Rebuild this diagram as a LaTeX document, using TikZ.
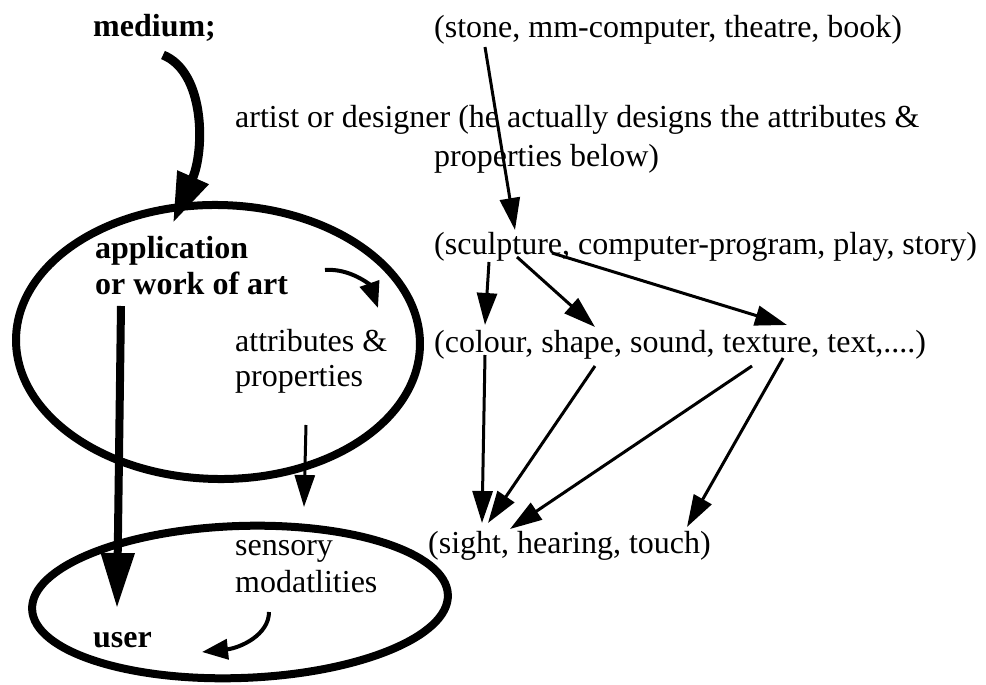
\documentclass[tikz,border=0pt]{standalone}
\usepackage{fontspec}
\setmainfont{Liberation Serif}
\usetikzlibrary{arrows.meta}
\begin{document}
\begin{tikzpicture}[x=1pt,y=-1pt,
  lbl/.style={anchor=base west,inner sep=0pt,font=\fontsize{32}{38}\selectfont},
  blbl/.style={anchor=base west,inner sep=0pt,font=\fontsize{32}{38}\selectfont\bfseries},
  ring/.style={line width=8pt},
  thinarr/.style={line width=3pt,-{Triangle[length=32pt,width=20pt]}},
  thickarr/.style={line width=9pt,-{Triangle[length=50pt,width=32pt]}},
  midarr/.style={line width=4pt,-{Triangle[length=26pt,width=20pt]}}]
\useasboundingbox (0,0) rectangle (986,685);

% ellipses
\draw[ring,rotate around={-1:(218,342)}] (218,342) ellipse [x radius=202, y radius=137];
\draw[ring,rotate around={2:(240,602)}] (240,602) ellipse [x radius=208, y radius=76];

% texts
\node[blbl] (medium) at (93,37) {medium;};
\node[lbl] (stone) at (434,38) {(stone, mm-computer, theatre, book)};
\node[lbl] (artist) at (235,128) {artist or designer (he actually designs the attributes \&};
\node[lbl] (below) at (434,166) {properties below)};
\node[blbl] (app) at (95,258) {application};
\node[blbl] (work) at (95,294) {or work of art};
\node[lbl] (sculpt) at (434,254) {(sculpture, computer-program, play, story)};
\node[lbl] (attr) at (235,351) {attributes \&};
\node[lbl] (prop) at (235,386) {properties};
\node[lbl] (colour) at (434,352) {(colour, shape, sound, texture, text,....)};
\node[lbl] (sensory) at (235,555) {sensory};
\node[lbl] (modal) at (235,592) {modatlities};
\node[lbl] (sight) at (428,553) {(sight, hearing, touch)};
\node[blbl] (user) at (93,647) {user};

% connector end points
\coordinate (m0) at (163,55);
\coordinate (m1) at (173,223);
\coordinate (s0) at (485,47);
\coordinate (s1) at (515,230);
\coordinate (a0) at (325,270);
\coordinate (a1) at (378,308);
\coordinate (w0) at (121,306);
\coordinate (w1) at (117,608);
\coordinate (p0) at (306,425);
\coordinate (p1) at (304,507);
\coordinate (y0) at (269,612);
\coordinate (y1) at (202,652);
\coordinate (c0a) at (489,262);
\coordinate (c1a) at (485,325);
\coordinate (c0b) at (517,257);
\coordinate (c1b) at (595,327);
\coordinate (c0c) at (552,253);
\coordinate (c1c) at (787,325);
\coordinate (h0a) at (485,355);
\coordinate (h1a) at (482,523);
\coordinate (h0b) at (595,366);
\coordinate (h1b) at (488,523);
\coordinate (h0c) at (752,366);
\coordinate (h1c) at (510,529);
\coordinate (h0d) at (783,358);
\coordinate (h1d) at (687,527);

% connectors
\draw[thickarr] (m0) .. controls (205,72) and (205,150) .. (m1);
\draw[thinarr] (s0) -- (s1);
\draw[midarr] (a0) .. controls (350,268) and (370,285) .. (a1);
\draw[thickarr,line width=8pt,-{Triangle[length=55pt,width=32pt]}] (w0) -- (w1);
\draw[thinarr] (p0) -- (p1);
\draw[midarr] (y0) .. controls (269,635) and (240,648) .. (y1);
\draw[thinarr] (c0a) -- (c1a);
\draw[thinarr] (c0b) -- (c1b);
\draw[thinarr] (c0c) -- (c1c);
\draw[thinarr] (h0a) -- (h1a);
\draw[thinarr] (h0b) -- (h1b);
\draw[thinarr] (h0c) -- (h1c);
\draw[thinarr] (h0d) -- (h1d);
\end{tikzpicture}
\end{document}
